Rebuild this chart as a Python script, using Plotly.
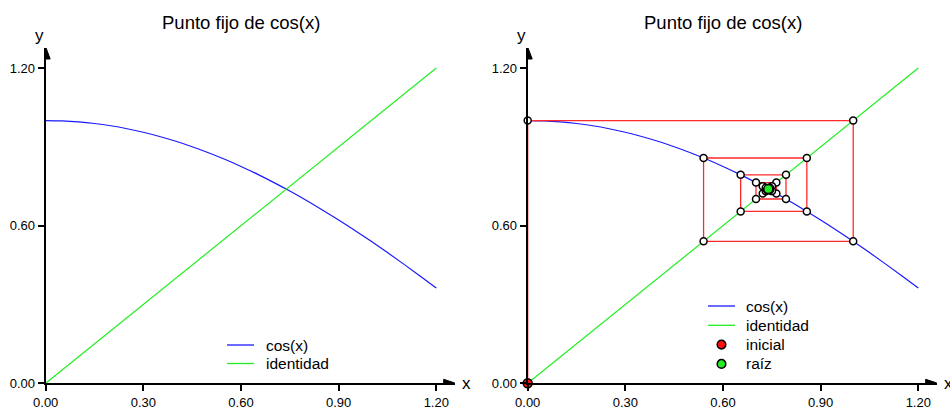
import plotly.graph_objects as go

# Sampled curve y = cos(x) on [0, 1.2]
x_curve = [0.00, 0.05, 0.10, 0.15, 0.20, 0.25, 0.30, 0.35, 0.40, 0.45, 0.50, 0.55, 0.60,
           0.65, 0.70, 0.75, 0.80, 0.85, 0.90, 0.95, 1.00, 1.05, 1.10, 1.15, 1.20]
cos_curve = [1.0000, 0.9988, 0.9950, 0.9888, 0.9801, 0.9689, 0.9553, 0.9394, 0.9211, 0.9004,
             0.8776, 0.8525, 0.8253, 0.7961, 0.7648, 0.7317, 0.6967, 0.6600, 0.6216, 0.5817,
             0.5403, 0.4976, 0.4536, 0.4085, 0.3624]
x_ident = [0.0, 1.2]
y_ident = [0.0, 1.2]

# Fixed-point iterates x_{k+1} = cos(x_k), starting at x0 = 0
iterates = [0.0, 1.0, 0.540302, 0.857553, 0.654290, 0.793480, 0.701369, 0.763960,
            0.722102, 0.750418, 0.731404, 0.744237, 0.735605]
root = 0.739085

x_ticks = [0.0, 0.3, 0.6, 0.9, 1.2]
y_ticks = [0.0, 0.6, 1.2]
title_text = "Punto fijo de cos(x)"
legend_left = ["cos(x)", "identidad"]
legend_right = ["cos(x)", "identidad", "inicial", "raíz"]

W, H = 950, 410
BLUE = "#1a1aff"
GREEN = "#22ee22"
RED = "#ff2a2a"
MARK_RED = "#ff1010"
MARK_GREEN = "#22ee22"
FONT = "Liberation Sans, Arial, sans-serif"

# Cobweb staircase built from the iterates
web_x = [iterates[0]]
web_y = [0.0]
for k in range(len(iterates) - 1):
    web_x += [iterates[k], iterates[k + 1]]
    web_y += [iterates[k + 1], iterates[k + 1]]
vert_x = web_x[1:]
vert_y = web_y[1:]

fig = go.Figure()

# Left panel
fig.add_trace(go.Scatter(x=x_curve, y=cos_curve, mode="lines", line=dict(color=BLUE, width=1.2, shape="spline"),
                         name="cos(x)", xaxis="x", yaxis="y"))
fig.add_trace(go.Scatter(x=x_ident, y=y_ident, mode="lines", line=dict(color=GREEN, width=1.2),
                         name="identidad", xaxis="x", yaxis="y"))

# Right panel
fig.add_trace(go.Scatter(x=x_curve, y=cos_curve, mode="lines", line=dict(color=BLUE, width=1.2, shape="spline"),
                         name="cos(x)", xaxis="x2", yaxis="y2"))
fig.add_trace(go.Scatter(x=x_ident, y=y_ident, mode="lines", line=dict(color=GREEN, width=1.2),
                         name="identidad", xaxis="x2", yaxis="y2"))
fig.add_trace(go.Scatter(x=web_x, y=web_y, mode="lines", line=dict(color=RED, width=1.3),
                         name="cobweb", xaxis="x2", yaxis="y2", hoverinfo="skip"))
fig.add_trace(go.Scatter(x=vert_x, y=vert_y, mode="markers", cliponaxis=False,
                         marker=dict(color="white", size=7, line=dict(color="black", width=1.5)),
                         name="iteraciones", xaxis="x2", yaxis="y2"))
fig.add_trace(go.Scatter(x=[iterates[0]], y=[0.0], mode="markers", cliponaxis=False,
                         marker=dict(color=MARK_RED, size=9, line=dict(color="black", width=1.5)),
                         name="inicial", xaxis="x2", yaxis="y2"))
fig.add_trace(go.Scatter(x=[root], y=[root], mode="markers", cliponaxis=False,
                         marker=dict(color=MARK_GREEN, size=9, line=dict(color="black", width=1.5)),
                         name="raíz", xaxis="x2", yaxis="y2"))

# Geometry (pixels)
px_per_x = 325.5
px_per_y = 262.75
y0_px, ytop_px = 383.3, 48.0
left_x0 = 45.7
right_x0 = 527.7
x_len_px = 409.0
x_max = x_len_px / px_per_x
y_max = (y0_px - ytop_px) / px_per_y

ydom = [1 - y0_px / H, 1 - ytop_px / H]

axis_common = dict(showgrid=False, zeroline=False, showline=True, linecolor="black", linewidth=2,
                   ticks="outside", ticklen=6, tickwidth=2, tickcolor="black", automargin=False,
                   tickfont=dict(family=FONT, size=13, color="black"), tickformat=".2f")

fig.update_layout(
    template="none",
    width=W, height=H, autosize=False,
    margin=dict(l=0, r=0, t=0, b=0, pad=0, autoexpand=False),
    paper_bgcolor="white", plot_bgcolor="white",
    font=dict(family=FONT, color="black"),
    showlegend=False,
    xaxis=dict(domain=[left_x0 / W, (left_x0 + x_len_px) / W], range=[0, x_max], anchor="y",
               tickvals=x_ticks, **axis_common),
    yaxis=dict(domain=ydom, range=[0, y_max], anchor="x", tickvals=y_ticks, **axis_common),
    xaxis2=dict(domain=[right_x0 / W, (right_x0 + x_len_px) / W], range=[0, x_max], anchor="y2",
                tickvals=x_ticks, **axis_common),
    yaxis2=dict(domain=ydom, range=[0, y_max], anchor="x2", tickvals=y_ticks, **axis_common),
)

shapes = []
annotations = []
for xa, ya, x0px in (("x", "y", left_x0), ("x2", "y2", right_x0)):
    # arrowheads at the ends of both axes
    shapes.append(dict(type="path", xref=xa, yref=ya, xsizemode="pixel", ysizemode="pixel",
                       xanchor=x_max, yanchor=0, path="M1,0 L-11,4 L-11,-4 Z",
                       fillcolor="black", line=dict(color="black", width=1)))
    shapes.append(dict(type="path", xref=xa, yref=ya, xsizemode="pixel", ysizemode="pixel",
                       xanchor=0, yanchor=y_max, path="M0,1 L-4.5,-11 L4.5,-11 Z",
                       fillcolor="black", line=dict(color="black", width=1)))
    annotations.append(dict(text="x", xref="paper", yref="paper", showarrow=False,
                            x=(x0px + x_len_px + 12) / W, y=1 - y0_px / H, xanchor="center", yanchor="middle",
                            font=dict(family=FONT, size=17, color="black")))
    annotations.append(dict(text="y", xref="paper", yref="paper", showarrow=False,
                            x=(x0px - 6) / W, y=1 - 36 / H, xanchor="center", yanchor="middle",
                            font=dict(family=FONT, size=17, color="black")))
    annotations.append(dict(text=title_text, xref="paper", yref="paper", showarrow=False,
                            x=(x0px + 1.2 * px_per_x / 2) / W, y=1 - 22 / H, xanchor="center", yanchor="middle",
                            font=dict(family=FONT, size=18.5, color="black")))


# Legend boxes: sample line or marker followed by the label
def legend_block(labels, styles, sample_x0, text_x, row0, row_gap):
    for i, (label, style) in enumerate(zip(labels, styles)):
        yc = row0 + i * row_gap
        if style[0] == "line":
            shapes.append(dict(type="line", xref="paper", yref="paper",
                               x0=sample_x0 / W, x1=(sample_x0 + 27) / W, y0=1 - yc / H, y1=1 - yc / H,
                               line=dict(color=style[1], width=1.3)))
        else:
            r = 4.3
            cx = sample_x0 + 13.5
            shapes.append(dict(type="circle", xref="paper", yref="paper",
                               x0=(cx - r) / W, x1=(cx + r) / W, y0=1 - (yc + r) / H, y1=1 - (yc - r) / H,
                               fillcolor=style[1], line=dict(color="black", width=1.5)))
        annotations.append(dict(text=label, xref="paper", yref="paper", showarrow=False,
                                x=text_x / W, y=1 - yc / H, xanchor="left", yanchor="middle",
                                font=dict(family=FONT, size=15.5, color="black")))


legend_block(legend_left, [("line", BLUE), ("line", GREEN)], 227, 264, 345, 18.5)
legend_block(legend_right, [("line", BLUE), ("line", GREEN), ("marker", MARK_RED), ("marker", MARK_GREEN)],
             708, 744, 306, 19.3)

fig.update_layout(shapes=shapes, annotations=annotations)

fig.write_html("out.html")
